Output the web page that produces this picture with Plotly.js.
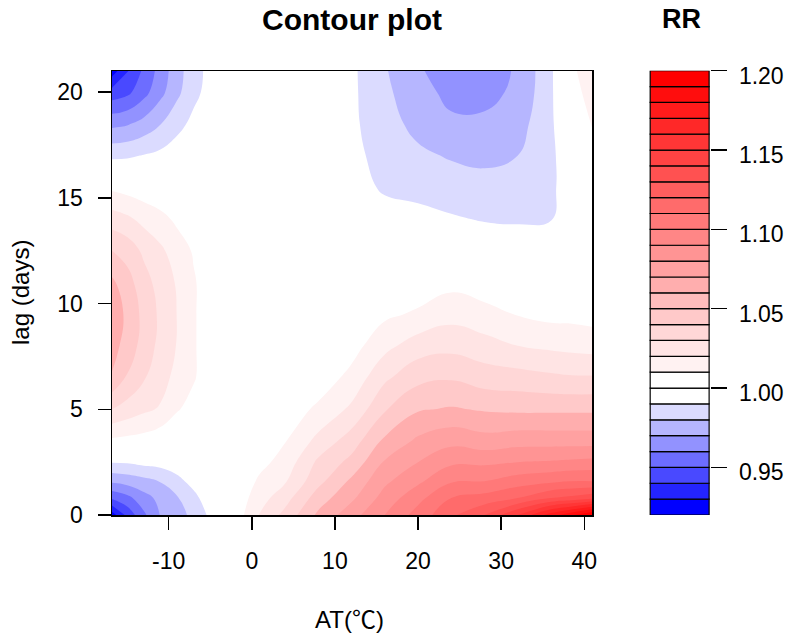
<!DOCTYPE html>
<html>
<head>
<meta charset="utf-8">
<script src="https://cdn.plot.ly/plotly-3.0.1.min.js"></script>
<style>
  html, body { margin: 0; padding: 0; background: #fff; }
  #plotdiv { width: 787px; height: 634px; }
</style>
</head>
<body>
<div id="plotdiv"></div>
<script>
// AT (deg C) grid columns and lag (days) grid rows
var atTemps = [-16.82, -15, -13, -11, -9, -7, -5, -2, 1, 4, 8, 12, 16, 20, 24, 28, 32, 36, 38.5, 40.93];
var lagDays = [0, 0.8, 1.6, 2.5, 3.5, 5, 6.5, 8, 9.5, 11, 12.5, 14, 15.5, 17, 18.5, 20, 21];

// RR, one row per lag value
var rrGrid = [
  [0.925, 0.943, 0.958, 0.9705, 0.9755, 0.983, 0.992, 1.004, 1.021, 1.033, 1.052, 1.066, 1.08, 1.094, 1.108, 1.12, 1.14, 1.165, 1.178, 1.192],
  [0.9515, 0.957, 0.966, 0.973, 0.979, 0.987, 0.996, 1.003, 1.016, 1.026, 1.045, 1.058, 1.074, 1.087, 1.10, 1.104, 1.11, 1.12, 1.123, 1.127],
  [0.972, 0.974, 0.977, 0.9805, 0.987, 0.9935, 0.998, 1.001, 1.012, 1.019, 1.037, 1.052, 1.068, 1.078, 1.089, 1.09, 1.095, 1.098, 1.10, 1.10],
  [0.9905, 0.991, 0.993, 0.994, 0.996, 0.999, 1.0, 1.0, 1.007, 1.014, 1.032, 1.043, 1.061, 1.07, 1.078, 1.078, 1.08, 1.081, 1.082, 1.083],
  [1.008, 1.007, 1.006, 1.003, 1.0, 1.0, 1.0, 1.0, 1.004, 1.0095, 1.023, 1.035, 1.052, 1.062, 1.067, 1.064, 1.066, 1.066, 1.066, 1.066],
  [1.03, 1.026, 1.022, 1.019, 1.011, 1.006, 1.002, 1.0, 1.002, 1.004, 1.012, 1.022, 1.039, 1.049, 1.051, 1.049, 1.048, 1.048, 1.048, 1.048],
  [1.049, 1.039, 1.031, 1.024, 1.017, 1.011, 1.004, 1.0, 1.0, 1.001, 1.004, 1.013, 1.028, 1.037, 1.039, 1.035, 1.034, 1.032, 1.031, 1.031],
  [1.054, 1.046, 1.036, 1.027, 1.0195, 1.011, 1.005, 1.001, 1.0, 1.0, 1.001, 1.006, 1.017, 1.025, 1.027, 1.024, 1.02, 1.018, 1.017, 1.016],
  [1.056, 1.048, 1.037, 1.028, 1.0198, 1.011, 1.005, 1.001, 1.0, 1.0, 1.0, 1.002, 1.008, 1.0115, 1.0165, 1.013, 1.0095, 1.007, 1.007, 1.006],
  [1.052, 1.044, 1.034, 1.026, 1.019, 1.011, 1.005, 1.001, 1.0, 1.0, 1.0, 1.0, 1.002, 1.004, 1.007, 1.005, 1.003, 1.002, 1.002, 1.002],
  [1.04, 1.036, 1.028, 1.022, 1.015, 1.009, 1.003, 1.0, 1.0, 1.0, 1.0, 1.0, 1.0, 1.0, 0.999, 0.997, 0.995, 0.996, 1.0, 1.0],
  [1.025, 1.022, 1.017, 1.013, 1.008, 1.003, 1.001, 1.0, 1.0, 1.0, 1.0, 0.998, 0.996, 0.993, 0.991, 0.9893, 0.989, 0.9895, 1.0, 1.0],
  [1.008, 1.006, 1.004, 1.002, 1.001, 1.0, 1.0, 1.0, 1.0, 1.0, 1.0, 0.996, 0.988, 0.987, 0.985, 0.983, 0.984, 0.987, 0.999, 1.001],
  [0.9877, 0.9884, 0.9905, 0.9925, 0.995, 0.997, 0.9985, 1.0, 1.0, 1.0, 1.0, 0.993, 0.986, 0.982, 0.979, 0.978, 0.98, 0.987, 1.0, 1.006],
  [0.9674, 0.969, 0.9734, 0.9796, 0.987, 0.9924, 0.996, 0.999, 1.0, 1.0, 1.0, 0.992, 0.984, 0.977, 0.972, 0.972, 0.976, 0.988, 1.003, 1.0105],
  [0.944, 0.9475, 0.9565, 0.967, 0.9775, 0.9875, 0.9933, 0.998, 1.0, 1.0, 1.0, 0.992, 0.982, 0.974, 0.967, 0.967, 0.972, 0.988, 1.008, 1.012],
  [0.925, 0.939, 0.952, 0.964, 0.976, 0.986, 0.993, 0.998, 1.0, 1.0, 1.0, 0.992, 0.981, 0.971, 0.966, 0.966, 0.971, 0.988, 1.009, 1.013]
];

// contour levels (as in the key) and tick labels
var rrLevels = [0.92, 0.93, 0.94, 0.95, 0.96, 0.97, 0.98, 0.99, 1.00, 1.01, 1.02, 1.03, 1.04, 1.05,
  1.06, 1.07, 1.08, 1.09, 1.10, 1.11, 1.12, 1.13, 1.14, 1.15, 1.16, 1.17, 1.18, 1.19, 1.20];
var rrTicks = [0.95, 1.00, 1.05, 1.10, 1.15, 1.20];
var atTicks = [-10, 0, 10, 20, 30, 40];
var atTickText = ['-10', '0', '10', '20', '30', '40'];
var lagTicks = [0, 5, 10, 15, 20];

// blue->white below 1, white->red above 1 (like colorRampPalette)
function ramp(a, b, n){
  var out = [];
  for(var i = 0; i < n; i++){
    var t = n > 1 ? i / (n - 1) : 0;
    out.push('rgb(' + Math.round(a[0] + (b[0]-a[0])*t) + ',' +
      Math.round(a[1] + (b[1]-a[1])*t) + ',' + Math.round(a[2] + (b[2]-a[2])*t) + ')');
  }
  return out;
}
var nBlue = rrLevels.indexOf(1.00);
var nRed = rrLevels.length - 1 - nBlue;
var bandColors = ramp([0,0,255],[255,255,255], nBlue).concat(ramp([255,255,255],[255,0,0], nRed));

// stepped colorscale so every band gets one flat colour
var nb = bandColors.length;
var scale = [];
for(var k = 0; k < nb; k++){
  var lo = k === 0 ? 0 : (k + 0.5) / (nb + 1);
  var hi = k === nb - 1 ? 1 : (k + 1.5) / (nb + 1);
  scale.push([lo, bandColors[k]], [hi, bandColors[k]]);
}

var step = rrLevels[1] - rrLevels[0];

var contour = {
  type: 'contour',
  x: atTemps,
  y: lagDays,
  z: rrGrid,
  autocontour: false,
  contours: {start: rrLevels[0], end: rrLevels[rrLevels.length-1], size: step, coloring: 'fill', showlines: false},
  line: {width: 0, smoothing: 1.3},
  colorscale: scale,
  zmin: rrLevels[0],
  zmax: rrLevels[rrLevels.length-1],
  showscale: false,
  hoverinfo: 'skip'
};

// key drawn as a stack of outlined boxes
var keyBase = rrLevels.slice(0, -1);
var keyHeight = keyBase.map(function(v, i){ return rrLevels[i+1] - v; });
var key = {
  type: 'bar',
  x: keyBase.map(function(){ return 0; }),
  y: keyHeight,
  base: keyBase,
  width: 1,
  marker: {color: bandColors, line: {color: '#000', width: 1.2}},
  xaxis: 'x2',
  yaxis: 'y2',
  hoverinfo: 'skip',
  showlegend: false
};

var W = 787, H = 634;
function fx(px){ return px / W; }
function fy(py){ return 1 - py / H; }

var FONT = 'Liberation Sans, Arial, Noto Sans CJK SC, sans-serif';
var TICK = {family: FONT, size: 23, color: '#000'};

var axisCommon = {
  ticks: 'outside', ticklen: 13, tickwidth: 1.5, tickcolor: '#000',
  showline: true, mirror: true, linecolor: '#000', linewidth: 1.5,
  showgrid: false, zeroline: false, tickfont: TICK
};

var layout = {
  width: W, height: H,
  margin: {l: 0, r: 0, t: 0, b: 0},
  paper_bgcolor: '#fff', plot_bgcolor: '#fff',
  font: {family: FONT, size: 23, color: '#000'},
  showlegend: false,
  barmode: 'overlay',
  xaxis: Object.assign({}, axisCommon, {domain: [fx(112), fx(592)], range: [-16.82, 40.93],
    tickvals: atTicks, ticktext: atTickText, ticklabelstandoff: 12, anchor: 'y'}),
  yaxis: Object.assign({}, axisCommon, {domain: [fy(515), fy(71)], range: [0, 21],
    tickvals: lagTicks, ticklabelstandoff: 10, anchor: 'x'}),
  xaxis2: {domain: [fx(649), fx(710.3)], range: [-0.52, 0.52], visible: false, anchor: 'y2', fixedrange: true},
  yaxis2: {domain: [fy(515), fy(70.7)], range: [0.92, 1.20], side: 'right', anchor: 'x2',
    tickvals: rrTicks, tickformat: '.2f', ticks: 'outside', ticklen: 16, tickwidth: 1.5, tickcolor: '#000',
    showline: false, showgrid: false, zeroline: false, ticklabelstandoff: 7, ticklabelshift: 5,
    tickfont: TICK},
  annotations: [
    {text: '<b>Contour plot</b>', x: fx(352), y: fy(19), xref: 'paper', yref: 'paper', xanchor: 'center', yanchor: 'middle', showarrow: false, font: {family: FONT, size: 30, color: '#000'}},
    {text: '<b>RR</b>', x: fx(681), y: fy(19), xref: 'paper', yref: 'paper', xanchor: 'center', yanchor: 'middle', showarrow: false, font: {family: FONT, size: 27, color: '#000'}},
    {text: 'AT(<span style="font-family:Noto Sans CJK SC">℃</span>)', x: fx(349), y: fy(617), xref: 'paper', yref: 'paper', xanchor: 'center', yanchor: 'middle', showarrow: false, font: {family: FONT, size: 24, color: '#000'}},
    {text: 'lag (days)', x: fx(20), y: fy(293), xref: 'paper', yref: 'paper', xanchor: 'center', yanchor: 'middle', textangle: -90, showarrow: false, font: {family: FONT, size: 24, color: '#000'}}
  ]
};

Plotly.newPlot('plotdiv', [contour, key], layout, {displayModeBar: false, staticPlot: true});
</script>
</body>
</html>
